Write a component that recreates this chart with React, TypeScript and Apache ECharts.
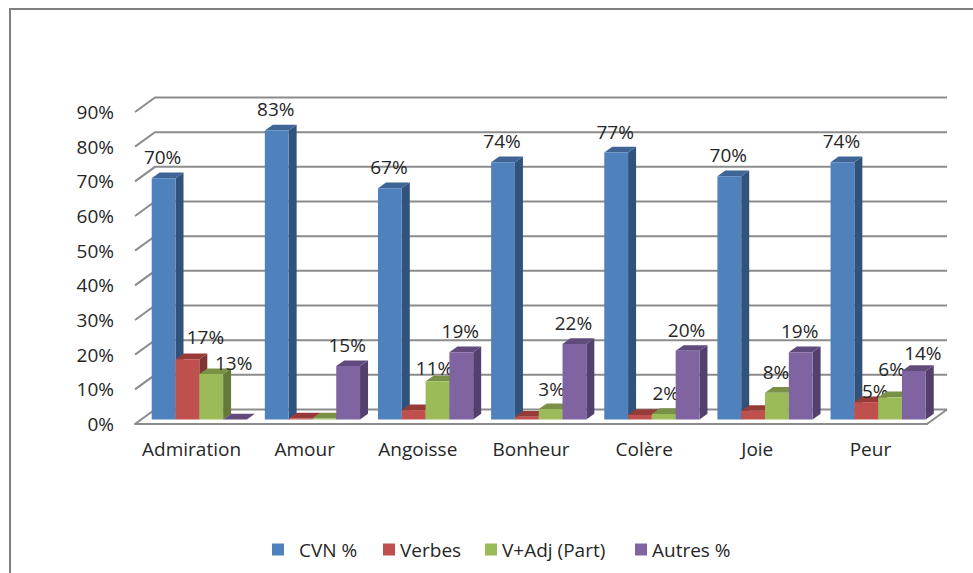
import React, { useEffect, useRef } from "react";
import * as echarts from "echarts";

const categories = ["Admiration", "Amour", "Angoisse", "Bonheur", "Colère", "Joie", "Peur"];
const seriesNames = ["CVN %", "Verbes", "V+Adj (Part)", "Autres %"];
const cvn = [69.6, 83.4, 66.7, 74.2, 77, 70.2, 74.2];
const verbes = [17.4, 0.3, 2.7, 0.8, 1.3, 2.5, 5];
const vAdj = [13.1, 0.3, 11, 3, 1.6, 7.7, 6.4];
const autres = [0, 15.4, 19.4, 21.8, 19.8, 19.4, 14];
const allValues = [cvn, verbes, vAdj, autres];
const yTicks = [0, 10, 20, 30, 40, 50, 60, 70, 80, 90];

const frontColors = ["#4F81BD", "#C0504D", "#9BBB59", "#8064A2"];
const sideColors = ["#31537B", "#7D3432", "#66793A", "#54406E"];
const topColors = ["#3E6595", "#963B38", "#789146", "#614B7C"];

const FONT = "'Open Sans'";
const FONT_SIZE = 19;
const TEXT = "#262626";
const LINE = "#8C8C8C";
const WALL_DX = 20;
const WALL_DY = -14.5;
const BAR_DX = 16.7;
const BAR_DY = -4.5;
const BAR_W = 23.8;
const DEPTH_X = 8;
const DEPTH_Y = -5.7;
const LABEL_DEFAULT: [number, number] = [-1, -21];
const labelNudges: Record<string, [number, number]> = {
  "1:0": [18, -22],
  "2:0": [22.5, -11],
  "2:2": [-3, -13],
  "2:3": [1, -20],
  "2:4": [2, -21],
  "1:6": [9, -11],
  "2:6": [1.5, -28],
  "3:6": [9, -18],
};
const unlabelled = new Set(["3:0", "1:1", "2:1", "1:2", "1:3", "1:4", "1:5"]);
const legendLefts = [272, 383, 485, 635];
const legendGaps = [15, 5, 5, 5];

const wallItem = (params: any, api: any) => {
  const v = api.value(0);
  const [, y] = api.coord([0, v]);
  const cs = params.coordSys;
  const x0 = cs.x;
  const x1 = cs.x + cs.width;
  const lineStyle = { stroke: LINE, lineWidth: 2, fill: "none" };
  const children: any[] = [
    {
      type: "polyline",
      shape: { points: [[x0, y], [x0 + WALL_DX, y + WALL_DY], [x1 + WALL_DX, y + WALL_DY]] },
      style: lineStyle,
    },
  ];
  if (v === 0) {
    children.push({
      type: "line",
      shape: { x1: x1, y1: y, x2: x1 + WALL_DX, y2: y + WALL_DY },
      style: lineStyle,
    });
  }
  return { type: "group", children };
};

const barItem = (s: number) => (params: any, api: any) => {
  const cat = api.value(0);
  const val = api.value(1);
  const band = api.size([1, 0])[0];
  const [cx, y0] = api.coord([cat, 0]);
  const [, yv] = api.coord([cat, val]);
  const x = cx - band / 2 + BAR_DX + s * BAR_W;
  const b = y0 + BAR_DY;
  const t = yv + BAR_DY;
  const children: any[] = [
    {
      type: "polygon",
      shape: { points: [[x + BAR_W, t], [x + BAR_W + DEPTH_X, t + DEPTH_Y], [x + BAR_W + DEPTH_X, b + DEPTH_Y], [x + BAR_W, b]] },
      style: { fill: sideColors[s] },
    },
    {
      type: "polygon",
      shape: { points: [[x, t], [x + DEPTH_X, t + DEPTH_Y], [x + BAR_W + DEPTH_X, t + DEPTH_Y], [x + BAR_W, t]] },
      style: { fill: topColors[s] },
    },
    { type: "rect", shape: { x, y: t, width: BAR_W, height: b - t }, style: { fill: frontColors[s] } },
  ];
  const key = `${s}:${cat}`;
  if (!unlabelled.has(key)) {
    const [dx, dy] = labelNudges[key] || LABEL_DEFAULT;
    children.push({
      type: "text",
      z2: 100,
      x: x + BAR_W / 2 + dx,
      y: t + dy,
      style: {
        text: `${Math.round(val)}%`,
        font: `${FONT_SIZE}px ${FONT}`,
        fill: TEXT,
        align: "center",
        verticalAlign: "middle",
      },
    });
  }
  return { type: "group", children };
};

export default function App() {
  const ref = useRef<HTMLDivElement>(null);
  useEffect(() => {
    const chart = echarts.init(ref.current!, undefined, { renderer: "svg" });
    chart.setOption({
      animation: false,
      backgroundColor: "#FFFFFF",
      textStyle: { fontFamily: FONT },
      grid: { left: 135, right: 46, top: 112, bottom: 149, containLabel: false },
      xAxis: {
        type: "category",
        data: categories,
        axisLine: { show: true, lineStyle: { color: LINE, width: 2 } },
        axisTick: { show: false },
        axisLabel: { color: TEXT, fontSize: FONT_SIZE, fontFamily: FONT, margin: 15, interval: 0 },
        z: 5,
      },
      yAxis: {
        type: "value",
        min: 0,
        max: 90,
        interval: 10,
        axisLine: { show: false },
        axisTick: { show: false },
        splitLine: { show: false },
        axisLabel: { color: TEXT, fontSize: FONT_SIZE, fontFamily: FONT, margin: 21, formatter: "{value}%" },
      },
      legend: seriesNames.map((name, i) => ({
        data: [name],
        left: legendLefts[i],
        top: 540,
        padding: 0,
        itemWidth: 12,
        itemHeight: 12,
        icon: "rect",
        itemGap: 0,
        textStyle: { color: TEXT, fontSize: FONT_SIZE, fontFamily: FONT, padding: [0, 0, 0, legendGaps[i] - 5] },
      })),
      series: [
        {
          type: "custom",
          name: "wall",
          z: 1,
          silent: true,
          clip: false,
          renderItem: wallItem,
          data: yTicks.map((t) => [t]),
          encode: { y: 0 },
        },
        ...seriesNames.map((name, s) => ({
          type: "custom",
          name,
          z: 2 + s,
          clip: false,
          renderItem: barItem(s),
          itemStyle: { color: frontColors[s] },
          data: allValues[s].map((v, i) => [i, v]),
          encode: { x: 0, y: 1 },
        })),
      ],
      graphic: [
        {
          type: "polyline",
          silent: true,
          shape: { points: [[10, 573], [10, 9], [973, 9]] },
          style: { stroke: "#7F7F7F", lineWidth: 2, fill: "none" },
        },
      ],
    });
    return () => chart.dispose();
  }, []);
  return <div ref={ref} style={{ position: "fixed", left: 0, top: 0, width: 973, height: 573 }} />;
}
